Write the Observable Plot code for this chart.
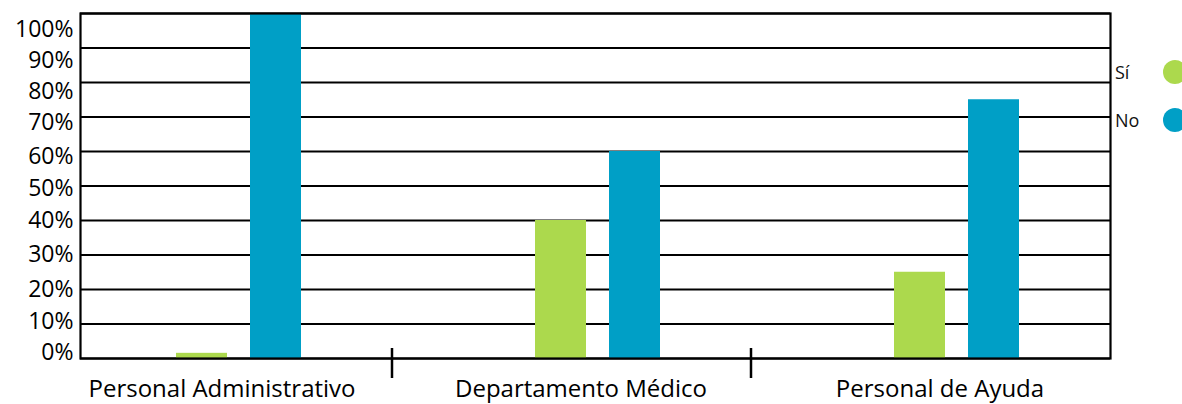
<!DOCTYPE html>
<html>
<head>
<meta charset="utf-8">
<script src="https://cdn.jsdelivr.net/npm/d3@7"></script>
<script src="https://cdn.jsdelivr.net/npm/@observablehq/plot@0.6"></script>
<style>
  html, body { margin: 0; padding: 0; background: #fff; }
  #wrap { position: relative; width: 1182px; height: 404px; overflow: hidden; }
  .leg { position: absolute; font-family: "Open Sans", sans-serif; font-size: 18px; color: #111; line-height: 24px; }
  .dot { position: absolute; width: 24px; height: 24px; border-radius: 50%; }
</style>
</head>
<body>
<div id="wrap"></div>
<script>
const categories = ["Personal Administrativo", "Departamento Médico", "Personal de Ayuda"];
const series = ["Sí", "No"];
const siValues = [1.5, 40, 25];
const noValues = [100, 60, 75];
const yTicks = [0, 10, 20, 30, 40, 50, 60, 70, 80, 90, 100];
const colors = ["#acd94d", "#009fc6"];

const siData = categories.map((c, i) => ({category: c, series: series[0], value: siValues[i]}));
const noData = categories.map((c, i) => ({category: c, series: series[1], value: noValues[i]}));
const fmt = d => d + "%";
const yAxis = (ticks, dy) => Plot.axisY(ticks, {tickSize: 0, tickPadding: 7, tickFormat: fmt, fontSize: 23, fill: "#000", dy, label: null});

const chart = Plot.plot({
  width: 1182,
  height: 404,
  marginLeft: 80,
  marginRight: 72,
  marginTop: 13,
  marginBottom: 46,
  style: {fontFamily: "Open Sans, sans-serif", background: "white", overflow: "visible"},
  x: {type: "band", domain: categories, range: [58, 1137], padding: 0, label: null},
  y: {type: "linear", domain: [0, 100], range: [358, 13], label: null},
  marks: [
    Plot.ruleY(yTicks, {stroke: "#000", strokeWidth: 2.2}),
    Plot.barY(siData, {x: "category", y: "value", fill: colors[0], dx: -37, insetLeft: 154, insetRight: 154}),
    Plot.barY(noData, {x: "category", y: "value", fill: colors[1], dx: 37, insetLeft: 154, insetRight: 154}),
    Plot.frame({stroke: "#000", strokeWidth: 2.2}),
    Plot.axisX(categories.slice(0, 2), {tickSize: 30, tickFormat: () => "", dx: 153, dy: -10, strokeWidth: 2.5, stroke: "#000", label: null}),
    yAxis([100], 16),
    yAxis([90], 12.5),
    yAxis([80], 9),
    yAxis([70], 5.5),
    yAxis([60], 5),
    yAxis([50], 2.5),
    yAxis([20, 30, 40], 0),
    yAxis([10], -2.5),
    yAxis([0], -6),
    Plot.axisX({tickSize: 0, tickPadding: 21, fontSize: 24, dx: -17, fill: "#000", label: null})
  ]
});
document.getElementById("wrap").appendChild(chart);

// Legend
const wrap = document.getElementById("wrap");
const legY = [72, 120];
series.forEach((s, i) => {
  const t = document.createElement("div");
  t.className = "leg";
  t.textContent = s;
  t.style.left = "1115px";
  t.style.top = (legY[i] - 12) + "px";
  wrap.appendChild(t);
  const d = document.createElement("div");
  d.className = "dot";
  d.style.background = colors[i];
  d.style.left = "1163px";
  d.style.top = (legY[i] - 12) + "px";
  wrap.appendChild(d);
});
</script>
</body>
</html>
